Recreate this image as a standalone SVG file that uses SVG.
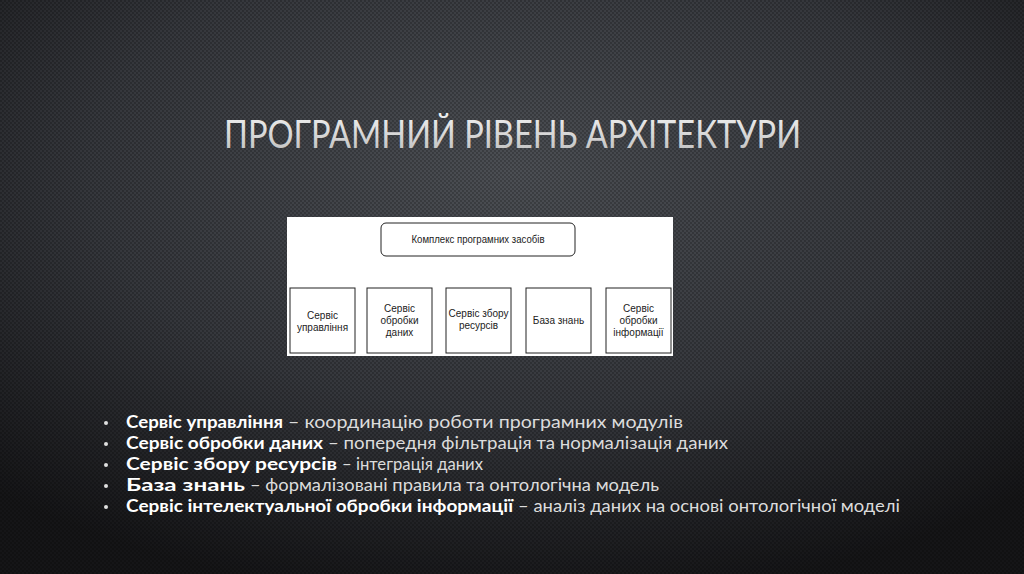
<svg xmlns="http://www.w3.org/2000/svg" width="1024" height="574" viewBox="0 0 1024 574">
<defs>
<radialGradient id="bg" cx="0.5" cy="0.3" r="0.75">
<stop offset="0" stop-color="#4c4f54"/>
<stop offset="0.55" stop-color="#35373c"/>
<stop offset="1" stop-color="#151517"/>
</radialGradient>
<pattern id="dots" width="4" height="4" patternUnits="userSpaceOnUse">
<circle cx="1" cy="1" r="0.9" fill="#000" fill-opacity="0.3"/>
<circle cx="3" cy="3" r="0.9" fill="#000" fill-opacity="0.3"/>
</pattern>
<linearGradient id="tg" x1="0" y1="0" x2="0" y2="1">
<stop offset="0" stop-color="#f4f4f4"/>
<stop offset="1" stop-color="#bdbdbd"/>
</linearGradient>
</defs>
<style>
.title{font-family:Lato,"Open Sans","DejaVu Sans",sans-serif;font-weight:400;font-size:39px;fill:url(#tg)}
.box{fill:#fff;stroke:#222;stroke-width:1}
.bt{font-family:"Liberation Sans",Arial,sans-serif;font-size:10px;fill:#222;text-anchor:middle}
.b{font-family:Lato,"Open Sans",sans-serif;font-size:16.5px;font-weight:700;fill:#fff}
.n{font-family:Lato,"Open Sans",sans-serif;font-size:16.5px;fill:#dcdcdc}
.dot{fill:#e0e0e0}
</style>
<rect width="1024" height="574" fill="url(#bg)"/>
<rect width="1024" height="574" fill="url(#dots)"/>
<text class="title" x="224" y="148" textLength="577" lengthAdjust="spacingAndGlyphs">ПРОГРАМНИЙ РІВЕНЬ АРХІТЕКТУРИ</text>
<rect x="287" y="217" width="386" height="139" fill="#fff"/>
<g id="connectors"></g>
<g id="n0"><rect class="box" x="381" y="223" width="194" height="33" rx="5"/><text class="bt" x="478" y="243" font-size="9" textLength="133" lengthAdjust="spacingAndGlyphs">Комплекс програмних засобів</text></g>
<g id="n1"><rect class="box" x="290" y="288" width="65" height="65"/><text class="bt" x="322.5" y="318.5">Сервіс</text><text class="bt" x="322.5" y="330.5">управління</text></g>
<g id="n2"><rect class="box" x="367" y="288" width="65" height="65"/><text class="bt" x="399.5" y="311.5">Сервіс</text><text class="bt" x="399.5" y="323.5">обробки</text><text class="bt" x="399.5" y="335.5">даних</text></g>
<g id="n3"><rect class="box" x="446" y="288" width="65" height="65"/><text class="bt" x="478.5" y="316.5">Сервіс збору</text><text class="bt" x="478.5" y="329">ресурсів</text></g>
<g id="n4"><rect class="box" x="526" y="288" width="65" height="65"/><text class="bt" x="558.5" y="323.5">База знань</text></g>
<g id="n5"><rect class="box" x="606" y="288" width="65" height="65"/><text class="bt" x="638.5" y="311.5">Сервіс</text><text class="bt" x="638.5" y="323.5">обробки</text><text class="bt" x="638.5" y="335.5">інформації</text></g>
<circle class="dot" cx="106" cy="423" r="2"/>
<circle class="dot" cx="106" cy="444" r="2"/>
<circle class="dot" cx="106" cy="465" r="2"/>
<circle class="dot" cx="106" cy="486" r="2"/>
<circle class="dot" cx="106" cy="507" r="2"/>
<text class="b" x="126" y="428" textLength="157" lengthAdjust="spacingAndGlyphs">Сервіс управління</text>
<text class="n" x="288" y="428" textLength="395" lengthAdjust="spacingAndGlyphs">– координацію роботи програмних модулів</text>
<text class="b" x="126" y="449" textLength="197" lengthAdjust="spacingAndGlyphs">Сервіс обробки даних</text>
<text class="n" x="328" y="449" textLength="400" lengthAdjust="spacingAndGlyphs">– попередня фільтрація та нормалізація даних</text>
<text class="b" x="126" y="470" textLength="211" lengthAdjust="spacingAndGlyphs">Сервіс збору ресурсів</text>
<text class="n" x="342" y="470" textLength="141" lengthAdjust="spacingAndGlyphs">– інтеграція даних</text>
<text class="b" x="126" y="491" textLength="119" lengthAdjust="spacingAndGlyphs">База знань</text>
<text class="n" x="250" y="491" textLength="409" lengthAdjust="spacingAndGlyphs">– формалізовані правила та онтологічна модель</text>
<text class="b" x="126" y="512" textLength="387" lengthAdjust="spacingAndGlyphs">Сервіс інтелектуальної обробки інформації</text>
<text class="n" x="518" y="512" textLength="382" lengthAdjust="spacingAndGlyphs">– аналіз даних на основі онтологічної моделі</text>
</svg>
